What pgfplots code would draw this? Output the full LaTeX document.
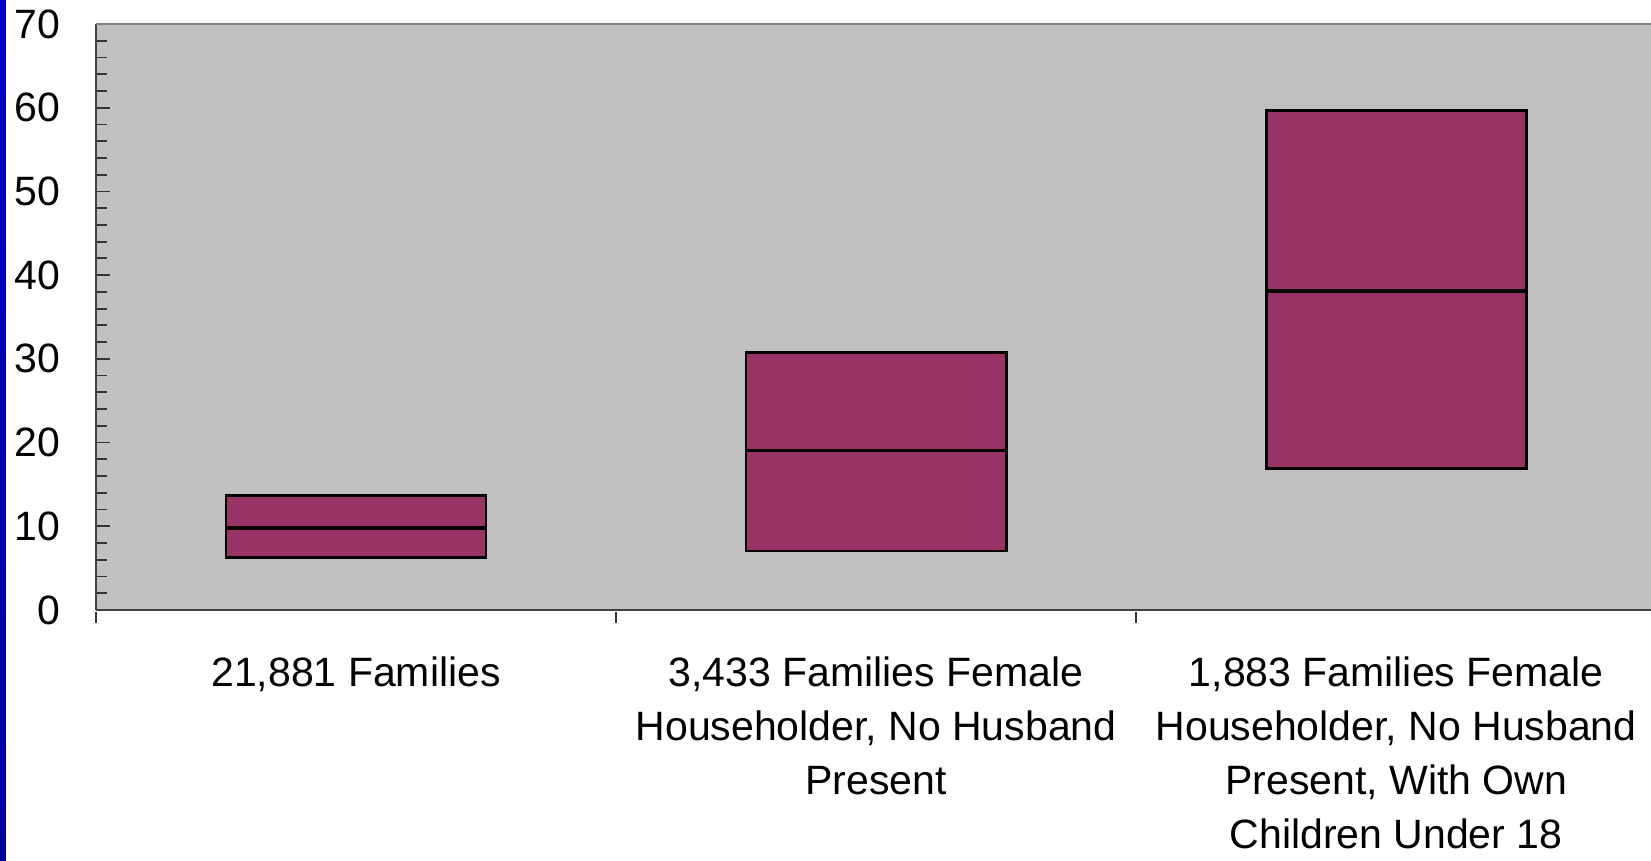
\documentclass[border=0pt]{standalone}
\usepackage{fontspec}
\setmainfont{Liberation Sans}
\usepackage{pgfplots}
\pgfplotsset{compat=1.18}
\usepgfplotslibrary{statistics}
\definecolor{plum}{RGB}{153,51,102}
\definecolor{plotgray}{RGB}{192,192,192}
\definecolor{slideblue}{RGB}{0,0,200}
\pgfplotsset{
    famboxes/.style={draw=black, line width=1.4pt, fill=plum,
        boxplot/every median/.style={draw=black, line width=1.6pt}},
}
\begin{document}
\begin{tikzpicture}
\begin{axis}[
    scale only axis,
    width=777.5pt, height=293pt,
    xmin=0.5, xmax=3.49,
    ymin=0, ymax=70,
    axis background/.style={fill=plotgray},
    axis x line*=bottom, axis y line*=left,
    axis line style={draw=black!75, line width=1pt},
    tick align=inside,
    ytick={0,10,...,70},
    minor y tick num=4,
    major tick length=7pt, minor tick length=5.5pt,
    every tick/.style={black!80, line width=0.9pt},
    xtick={1,2,3},
    major x tick style={draw=none},
    minor xtick={0.5,1.5,2.5},
    minor x tick style={yshift=-6.5pt},
    xticklabels={{21,881 Families},
      {3,433 Families Female\\Householder, No Husband\\Present},
      {1,883 Families Female\\Householder, No Husband\\Present, With Own\\Children Under 18}},
    xticklabel style={align=center, anchor=north, inner sep=0pt, yshift=-23pt},
    yticklabel style={anchor=east, inner sep=0pt, xshift=-17.5pt},
    tick label style={font=\fontsize{20.5}{27}\selectfont},
    /pgf/number format/assume math mode=true,
    boxplot/draw direction=y,
    boxplot/box extend=0.5,
    clip=false,
]
\addplot[famboxes, boxplot prepared={
    draw position=1, lower whisker=6.3, lower quartile=6.3,
    median=9.8, upper quartile=13.7, upper whisker=13.7}] coordinates {};
\addplot[famboxes, boxplot prepared={
    draw position=2, lower whisker=7.05, lower quartile=7.05,
    median=19.1, upper quartile=30.8, upper whisker=30.8}] coordinates {};
\addplot[famboxes, boxplot prepared={
    draw position=3, lower whisker=16.9, lower quartile=16.9,
    median=38.1, upper quartile=59.7, upper whisker=59.7}] coordinates {};
\draw[black!50, line width=1pt] (rel axis cs:0,1) -- (rel axis cs:1,1);
\end{axis}
\pgfresetboundingbox
\useasboundingbox (-48pt,-125.5pt) rectangle (777.5pt,305pt);
\shade[top color=slideblue, bottom color=slideblue!80!black] (-48pt,-125.5pt) rectangle (-45pt,305pt);
\end{tikzpicture}
\end{document}
